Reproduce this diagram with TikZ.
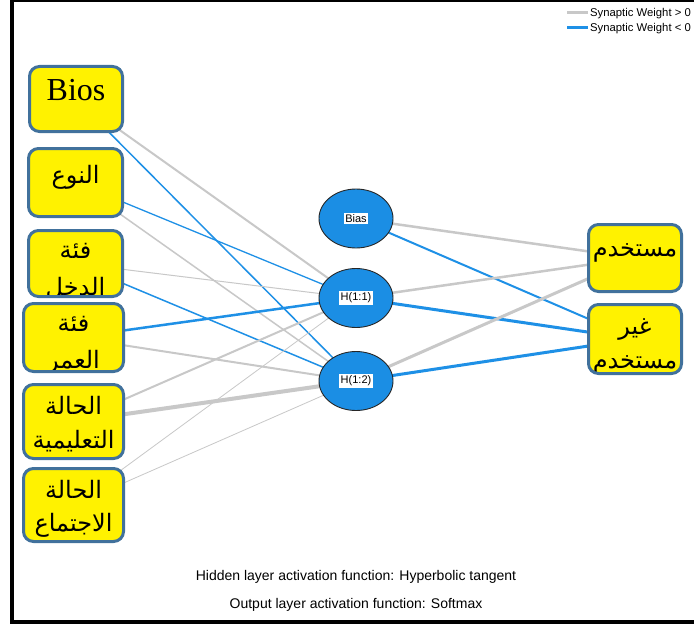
\documentclass[tikz,border=0pt]{standalone}
\usepackage{fontspec}
\setmainfont{Liberation Serif}
\newfontfamily\arabicfont[Script=Arabic]{DejaVu Sans}
\newfontfamily\arialfont{Liberation Sans}
\TeXXeTstate=1
\usetikzlibrary{shapes.geometric,backgrounds,calc}
\definecolor{boxborder}{RGB}{65,113,156}
\definecolor{nodeblue}{RGB}{27,142,228}
\definecolor{posgray}{RGB}{200,200,200}
\definecolor{negblue}{RGB}{30,144,230}
\begin{document}
\begin{tikzpicture}[x=1pt,y=-1pt,
  inbox/.style={draw=boxborder, line width=3pt, fill=yellow, rounded corners=10pt, inner sep=0pt},
  neuron/.style={ellipse, draw=black!85, line width=0.9pt, fill=nodeblue, inner sep=0pt, minimum width=74pt, minimum height=59pt},
  nlabel/.style={fill=white, inner sep=1.5pt, font=\arialfont\fontsize{11}{13}\selectfont},
  artext/.style={font=\arabicfont\fontsize{24}{30}\selectfont, inner sep=0pt, anchor=base},
  poswt/.style={draw=posgray},
  negwt/.style={draw=negblue},
  legendtext/.style={font=\arialfont\fontsize{11.3}{13}\selectfont, anchor=west, inner sep=0pt},
  foottext/.style={font=\arialfont\fontsize{14}{16}\selectfont, inner sep=0pt}
]
\useasboundingbox (0,0) rectangle (694,626);

% frame
\fill[black] (9.5,0) rectangle (694,2.5);
\fill[black] (9.5,0) rectangle (13.5,624);
\fill[black] (9.5,620) rectangle (694,624);

% input boxes
\node[inbox, minimum width=93pt, minimum height=65pt] (bios) at (76,99) {};
\node[font=\fontsize{32}{36}\selectfont, anchor=base, inner sep=0pt] (biost) at (76,100) {Bios};

\node[inbox, minimum width=94pt, minimum height=68pt, path picture={
  \node[artext] (nawet) at ($(path picture bounding box.north)+(0,35)$) {\beginR النوع\endR};
}] (nawe) at (75.5,182.5) {};

\node[inbox, minimum width=94pt, minimum height=66pt, path picture={
  \node[artext] (dakhlt1) at ($(path picture bounding box.north)+(0,28)$) {\beginR فئة\endR};
  \node[artext] (dakhlt2) at ($(path picture bounding box.north)+(0,65)$) {\beginR الدخل\endR};
}] (dakhl) at (75.5,263.5) {};

\node[inbox, minimum width=100pt, minimum height=68pt, path picture={
  \node[artext] (umrt1) at ($(path picture bounding box.north)+(0,28)$) {\beginR فئة\endR};
  \node[artext] (umrt2) at ($(path picture bounding box.north)+(0,65)$) {\beginR العمر\endR};
}] (umr) at (73.5,337.5) {};

\node[inbox, minimum width=100pt, minimum height=74pt, path picture={
  \node[artext] (taalimt1) at ($(path picture bounding box.north)+(0,30)$) {\beginR الحالة\endR};
  \node[artext] (taalimt2) at ($(path picture bounding box.north)+(0,64)$) {\beginR التعليمية\endR};
}] (taalim) at (73.5,421.5) {};

\node[inbox, minimum width=100pt, minimum height=73pt, path picture={
  \node[artext] (ijtimat1) at ($(path picture bounding box.north)+(0,30)$) {\beginR الحالة\endR};
  \node[artext] (ijtimat2) at ($(path picture bounding box.north)+(0,63)$) {\beginR الاجتماع\endR};
}] (ijtima) at (73.5,505) {};

% hidden layer
\node[neuron] (bias) at (356,218.5) {};
\node[nlabel] (biasl) at (bias.center) {Bias};
\node[neuron] (h11) at (356,298) {};
\node[nlabel] (h11l) at (h11.center) {H(1:1)};
\node[neuron] (h12) at (356,381) {};
\node[nlabel] (h12l) at (h12.center) {H(1:2)};

% output boxes
\node[inbox, minimum width=93pt, minimum height=67pt, path picture={
  \node[artext] (out1t) at ($(path picture bounding box.north)+(0,32)$) {\beginR مستخدم\endR};
}] (out1) at (635,258) {};

\node[inbox, minimum width=93pt, minimum height=69pt, path picture={
  \node[artext] (out2t1) at ($(path picture bounding box.north)+(0,30)$) {\beginR غير\endR};
  \node[artext] (out2t2) at ($(path picture bounding box.north)+(0,64)$) {\beginR مستخدم\endR};
}] (out2) at (635,339) {};

% connections
\begin{pgfonlayer}{background}
\fill[white] (0,0) rectangle (694,626);
\draw[poswt, line width=2pt]   (bios.center) -- (h11.center);
\draw[negwt, line width=1.5pt] (bios.center) -- (h12.center);
\draw[negwt, line width=1.3pt] (nawe.center) -- (h11.center);
\draw[poswt, line width=1.5pt] (nawe.center) -- (h12.center);
\draw[poswt, line width=1pt]   (dakhl.center) -- (h11.center);
\draw[negwt, line width=1.5pt] (dakhl.center) -- (h12.center);
\draw[negwt, line width=2.5pt] (umr.center) -- (h11.center);
\draw[poswt, line width=2pt]   (umr.center) -- (h12.center);
\draw[poswt, line width=2pt]   (taalim.center) -- (h11.center);
\draw[poswt, line width=4pt]   (taalim.center) -- (h12.center);
\draw[poswt, line width=0.8pt] (ijtima.center) -- (h11.center);
\draw[poswt, line width=0.8pt] (ijtima.center) -- (h12.center);
\draw[poswt, line width=2.5pt] (bias.center) -- (out1.center);
\draw[negwt, line width=2pt]   (bias.center) -- (out2.center);
\draw[poswt, line width=2.5pt] (h11.center) -- (out1.center);
\draw[negwt, line width=3pt]   (h11.center) -- (out2.center);
\draw[poswt, line width=3pt]   (h12.center) -- (out1.center);
\draw[negwt, line width=3pt]   (h12.center) -- (out2.center);
\end{pgfonlayer}

% legend
\coordinate (lg1a) at (567,13);
\coordinate (lg1b) at (588,13);
\coordinate (lg2a) at (567,28);
\coordinate (lg2b) at (588,28);
\draw[poswt, line width=3pt] (lg1a) -- (lg1b);
\draw[negwt, line width=3pt] (lg2a) -- (lg2b);
\node[legendtext] (lgt1) at (590,13.5) {Synaptic Weight > 0};
\node[legendtext] (lgt2) at (590,28.5) {Synaptic Weight < 0};

% footer
\node[foottext] (foot1) at (356,577) {Hidden layer activation function: Hyperbolic tangent};
\node[foottext] (foot2) at (356,605) {Output layer activation function: Softmax};
\end{tikzpicture}
\end{document}
